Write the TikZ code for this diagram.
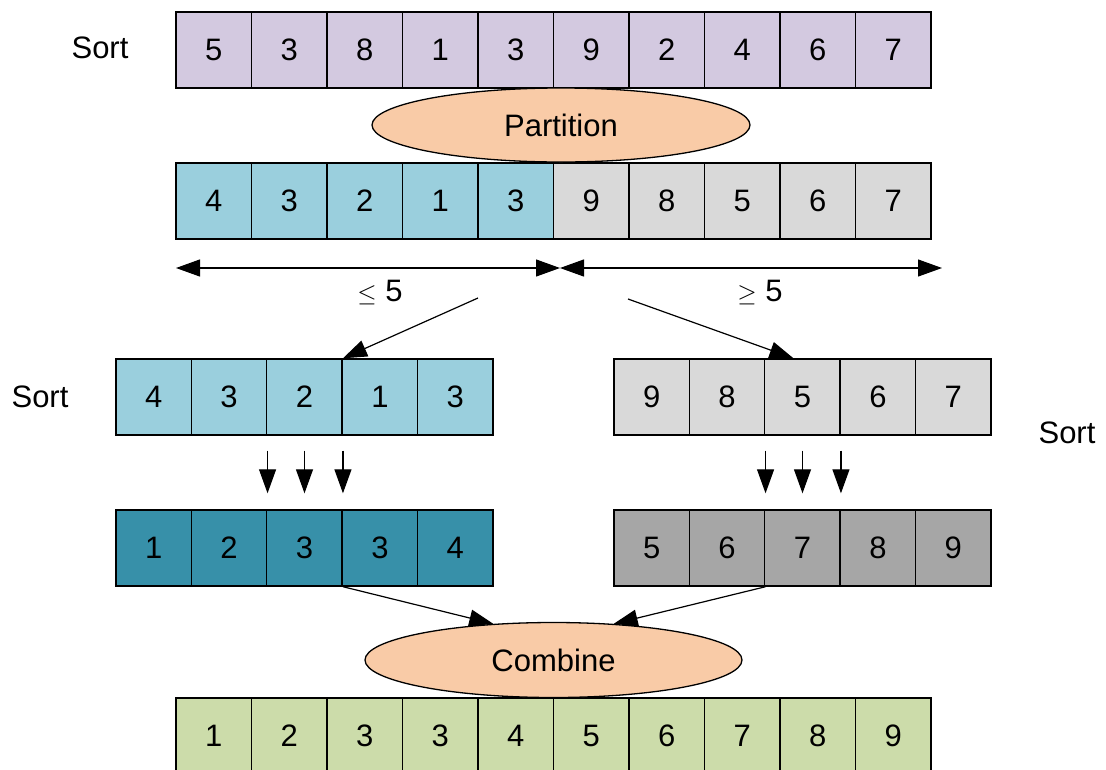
\documentclass[tikz,border=0pt]{standalone}
\usepackage{fontspec}
\setmainfont{Liberation Sans}
\usetikzlibrary{arrows.meta,shapes.geometric}
\definecolor{cPurple}{RGB}{211,201,224}
\definecolor{cCyan}{RGB}{154,207,221}
\definecolor{cLight}{RGB}{217,217,217}
\definecolor{cTeal}{RGB}{55,144,169}
\definecolor{cGray}{RGB}{166,166,166}
\definecolor{cGreen}{RGB}{204,220,170}
\definecolor{cPeach}{RGB}{249,203,167}
\tikzset{
  txt/.style={font=\fontsize{31}{36}\selectfont},
  cell/.style={txt, draw=black, line width=1.4pt, minimum width=75.5pt, minimum height=76pt, inner sep=0pt},
  oval/.style={txt, ellipse, draw=black, line width=1.3pt, fill=cPeach, inner sep=0pt},
  lbl/.style={txt, inner sep=0pt},
  arr/.style={line width=1.2pt, -{Triangle[length=24pt,width=17pt]}},
  darr/.style={line width=1.2pt, {Triangle[length=24pt,width=17pt]}-{Triangle[length=24pt,width=17pt]}}
}
\begin{document}
\begin{tikzpicture}[x=1pt,y=-1pt]
\useasboundingbox (0,0) rectangle (1106,769);
% row 1
\foreach \v [count=\i] in {5,3,8,1,3,9,2,4,6,7}
  \node[cell, fill=cPurple] (a\i) at ({176+75.5*(\i-0.5)},50) {\v};
% row 2
\foreach \v [count=\i] in {4,3,2,1,3}
  \node[cell, fill=cCyan] (b\i) at ({176+75.5*(\i-0.5)},201) {\v};
\foreach \v [count=\i from 6] in {9,8,5,6,7}
  \node[cell, fill=cLight] (b\i) at ({176+75.5*(\i-0.5)},201) {\v};
\node[oval, minimum width=378pt, minimum height=74pt] (part) at (561,125) {Partition};
% row 3
\foreach \v [count=\i] in {4,3,2,1,3}
  \node[cell, fill=cCyan] (l\i) at ({116+75.4*(\i-0.5)},397) {\v};
\foreach \v [count=\i] in {9,8,5,6,7}
  \node[cell, fill=cLight] (r\i) at ({614+75.4*(\i-0.5)},397) {\v};
% row 4
\foreach \v [count=\i] in {1,2,3,3,4}
  \node[cell, fill=cTeal] (m\i) at ({116+75.4*(\i-0.5)},548) {\v};
\foreach \v [count=\i] in {5,6,7,8,9}
  \node[cell, fill=cGray] (n\i) at ({614+75.4*(\i-0.5)},548) {\v};
% combine + bottom row
\foreach \v [count=\i] in {1,2,3,3,4,5,6,7,8,9}
  \node[cell, fill=cGreen] (z\i) at ({176+75.5*(\i-0.5)},736) {\v};
\node[oval, minimum width=377pt, minimum height=75pt] (comb) at (553.5,660) {Combine};
% labels
\node[lbl] (s1) at (100,48) {Sort};
\node[lbl] (s2) at (40,397) {Sort};
\node[lbl] (s3) at (1067,433) {Sort};
\node[lbl] (le) at (380,293) {$\leq$ 5};
\node[lbl] (ge) at (760,293) {$\geq$ 5};
% range arrows
\coordinate (hL) at (176,268);
\coordinate (hM) at (560,268);
\coordinate (hR) at (942,268);
\draw[darr] (hL) -- (hM);
\draw[darr] (hM) -- (hR);
% split arrows
\coordinate (dL) at (478,298);
\coordinate (dR) at (628,299);
\draw[arr] (dL) -- (l3.north east);
\draw[arr] (dR) -- ([xshift=-9pt]r3.north);
% sort arrows
\draw[arr] ([yshift=-15pt]l2.south east) -- ([yshift=16pt]m2.north east);
\draw[arr] ([yshift=-15pt]l3.south) -- ([yshift=16pt]m3.north);
\draw[arr] ([yshift=-15pt]l3.south east) -- ([yshift=16pt]m3.north east);
\draw[arr] ([yshift=-15pt]r2.south east) -- ([yshift=16pt]n2.north east);
\draw[arr] ([yshift=-15pt]r3.south) -- ([yshift=16pt]n3.north);
\draw[arr] ([yshift=-15pt]r3.south east) -- ([yshift=16pt]n3.north east);
% combine arrows
\draw[arr] (m3.south east) -- (comb.149);
\draw[arr] (n2.south east) -- (comb.31);
\end{tikzpicture}
\end{document}
